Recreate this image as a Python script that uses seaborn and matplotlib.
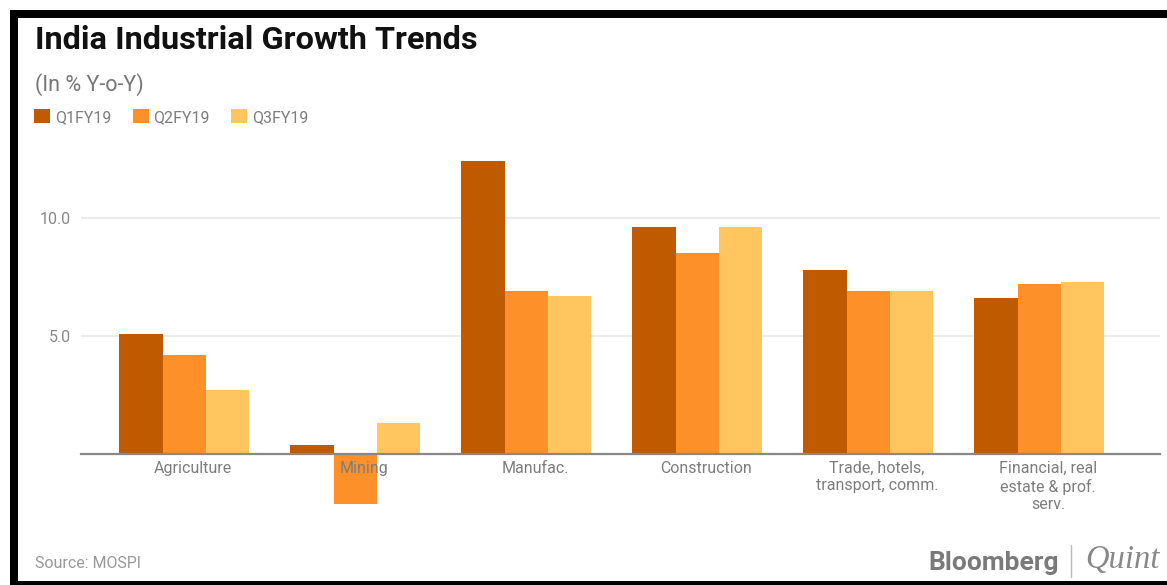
import pandas as pd
import matplotlib.pyplot as plt
import seaborn as sns
from matplotlib.patches import Rectangle
from matplotlib.lines import Line2D

sns.set_style('white')
plt.rcParams['font.family'] = ['Roboto', 'DejaVu Sans']

sectors = ['Agriculture', 'Mining', 'Manufac.', 'Construction',
           'Trade, hotels,\ntransport, comm.', 'Financial, real\nestate & prof.\nserv.']
quarters = ['Q1FY19', 'Q2FY19', 'Q3FY19']
q1 = [5.1, 0.4, 12.4, 9.6, 7.8, 6.6]
q2 = [4.2, -2.1, 6.9, 8.5, 6.9, 7.2]
q3 = [2.7, 1.3, 6.7, 9.6, 6.9, 7.3]
colors = ['#BF5A00', '#FE9029', '#FFC55F']

df = pd.DataFrame({
    'sector': sectors * 3,
    'quarter': [q for q in quarters for _ in sectors],
    'growth': q1 + q2 + q3,
})

W, H = 1167, 585
fig = plt.figure(figsize=(W / 100, H / 100), dpi=100)
ax = fig.add_axes([81 / W, 1 - 515.4 / H, (1160 - 81) / W, (515.4 - 137.8) / H])

sns.barplot(data=df, x='sector', y='growth', hue='quarter', palette=colors,
            width=0.76, saturation=1, ax=ax, edgecolor='none')

ax.set_xlim(-0.605, 5.705)
ax.set_ylim(-2.6, 13.4)
ax.set_xlabel('')
ax.set_ylabel('')
ax.set_xticks([k + 0.05 for k in range(len(sectors))])
ax.set_xticklabels(sectors)
ax.set_yticks([5, 10])
ax.set_yticklabels(['5.0', '10.0'])
for y in [5, 10]:
    ax.axhline(y, color='#e6e6e6', linewidth=1.1, zorder=0)
for s in ['top', 'right', 'left']:
    ax.spines[s].set_visible(False)
ax.spines['bottom'].set_position(('data', 0))
ax.spines['bottom'].set_color('#888888')
ax.spines['bottom'].set_linewidth(1.6)
ax.spines['bottom'].set_zorder(3)
ax.set_axisbelow(False)
ax.tick_params(axis='x', length=0, pad=5, labelsize=11.5, labelcolor='#7d7d7d')
ax.tick_params(axis='y', length=0, pad=7, labelsize=11.5, labelcolor='#888888')

handles, labels = ax.get_legend_handles_labels()
ax.legend(handles, labels, loc='center left', bbox_to_anchor=(34 / W, 1 - 117 / H),
          bbox_transform=fig.transFigure, ncol=3, frameon=False, fontsize=11.5,
          handlelength=1.0, handleheight=1.0, handletextpad=0.3, columnspacing=1.35,
          borderpad=0, borderaxespad=0, labelcolor='#7d7d7d')

fig.text(35 / W, 1 - 49 / H, 'India Industrial Growth Trends', fontsize=23.4,
         fontweight='bold', color='#111111', va='baseline')
fig.text(35 / W, 1 - 91 / H, '(In % Y-o-Y)', fontsize=15.5, color='#777777', va='baseline')
fig.text(35 / W, 1 - 568 / H, 'Source: MOSPI', fontsize=11.5, color='#999999', va='baseline')
fig.text(928 / W, 1 - 570 / H, 'Bloomberg', fontsize=19, fontweight='bold',
         color='#7a7a7a', va='baseline')
fig.text(1085 / W, 1 - 568 / H, 'Quint', fontsize=23.5, style='italic',
         family='Liberation Serif', color='#888888', va='baseline')
fig.add_artist(Line2D([1071 / W, 1071 / W], [1 - 545 / H, 1 - 577 / H],
                      transform=fig.transFigure, color='#bbbbbb', linewidth=1))

# black frame
fig.add_artist(Rectangle((10 / W, 1 - 18 / H), 1 - 10 / W, 8 / H,
                         transform=fig.transFigure, color='black', linewidth=0))
fig.add_artist(Rectangle((10 / W, 0), 8 / W, 1 - 10 / H,
                         transform=fig.transFigure, color='black', linewidth=0))
fig.add_artist(Rectangle((10 / W, 0), 1 - 10 / W, 4 / H,
                         transform=fig.transFigure, color='black', linewidth=0))

fig.savefig('out.png', dpi=100)
plt.close()
